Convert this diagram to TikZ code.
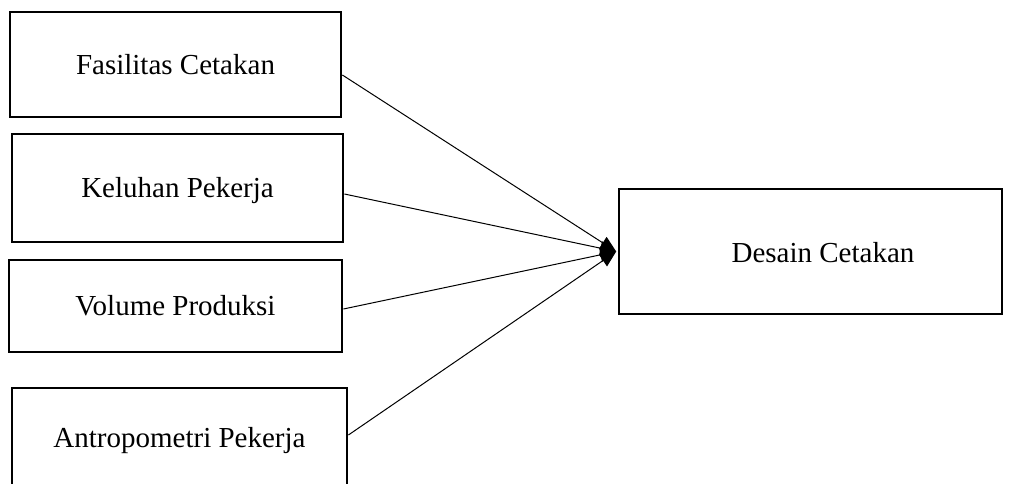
\documentclass[tikz,border=0pt]{standalone}
\usepackage{fontspec}
\setmainfont{Liberation Serif}
\usetikzlibrary{arrows.meta,calc}
\begin{document}
\begin{tikzpicture}[x=1pt,y=-1pt,
  box/.style={draw=black,line width=2.8pt,fill=white,inner sep=0pt,
    font=\fontsize{29}{35}\selectfont,text height=19pt,text depth=0pt},
  lbl/.style={inner sep=0pt,font=\fontsize{29}{35}\selectfont,text height=19pt,text depth=0pt},
  conn/.style={line width=1pt,-{Triangle[length=16pt,width=14pt]}}]
\useasboundingbox (0,0) rectangle (1015,483);
\clip (0,0) rectangle (1015,483);
\node[box,minimum width=331pt,minimum height=105pt] (b1) at (175.5,64.5) {Fasilitas Cetakan};
\node[box,minimum width=331pt,minimum height=108pt] (b2) at (177.5,188) {Keluhan Pekerja};
\node[box,minimum width=333pt,minimum height=92pt] (b3) at (175.5,306) {Volume Produksi};
\node[box,minimum width=335pt,minimum height=100pt] (b4) at (179.5,438) {Antropometri Pekerja};
\node[box,minimum width=383pt,minimum height=125pt] (dc) at (810.5,251.5) {};
\node[lbl] (dct) at (823,252.5) {Desain Cetakan};
\draw[conn] ([yshift=-10.5pt]b1.east) -- ([xshift=-1.4pt]dc.west);
\draw[conn] ([yshift=-6pt]b2.east) -- ([xshift=-1.4pt]dc.west);
\draw[conn] ([yshift=-3pt]b3.east) -- ([xshift=-1.4pt]dc.west);
\draw[conn] ([yshift=3pt]b4.east) -- ([xshift=-1.4pt]dc.west);
\end{tikzpicture}
\end{document}
